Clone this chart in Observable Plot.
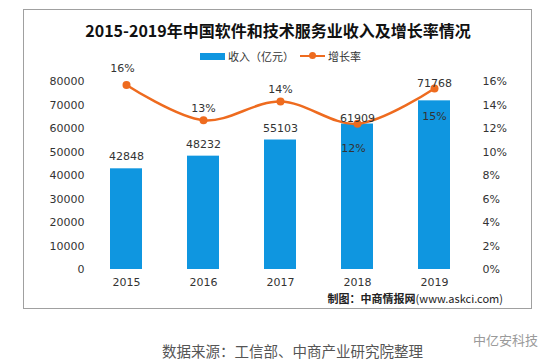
<!DOCTYPE html>
<html>
<head>
<meta charset="utf-8">
<script src="https://cdn.jsdelivr.net/npm/d3@7"></script>
<script src="https://cdn.jsdelivr.net/npm/@observablehq/plot@0.6"></script>
<style>
  html, body { margin: 0; padding: 0; background: #fff; }
  #wrap { position: relative; width: 556px; height: 364px; overflow: hidden; font-family: "Noto Sans CJK SC", sans-serif; }
  #title { position: absolute; left: 23px; width: 510px; top: 19px; line-height: 22px; text-align: center; font-size: 16px; font-weight: bold; color: #111; }
  #legend { position: absolute; left: 200px; top: 48px; height: 16px; display: flex; align-items: center; font-size: 11px; color: #333; }
  #legend .sw { width: 25px; height: 7px; background: #0f96e0; margin-right: 3px; }
  #legend .ln { position: relative; width: 25px; height: 2.5px; background: #ee6b1f; margin: 0 3px 0 6px; }
  #legend .ln::after { content: ""; position: absolute; left: 9px; top: -2.5px; width: 7px; height: 7px; border-radius: 50%; background: #ee6b1f; }
  #chart { position: absolute; left: 0; top: 0; }
  #credit { position: absolute; right: 53px; top: 290px; font-size: 11px; color: #222; line-height: 16px; }
  #credit b { font-weight: bold; }
  #source { position: absolute; left: 162px; top: 341px; font-size: 14.5px; color: #555; line-height: 20px; }
  #wm { position: absolute; left: 473px; top: 331px; font-size: 13px; color: #9a9a9a; line-height: 18px; }
</style>
</head>
<body>
<div id="wrap">
  <div id="chart"></div>
  <div id="title">2015-2019年中国软件和技术服务业收入及增长率情况</div>
  <div id="legend"><span class="sw"></span><span>收入（亿元）</span><span class="ln"></span><span>增长率</span></div>
  <div id="credit"><b>制图：中商情报网</b>(www.askci.com)</div>
  <div id="source">数据来源：工信部、中商产业研究院整理</div>
  <div id="wm">中亿安科技</div>
</div>
<script>
const years = ["2015", "2016", "2017", "2018", "2019"];
const revenue = [42848, 48232, 55103, 61909, 71768];
const growth = [15.7, 12.7, 14.3, 12.4, 15.4];
const growthLabels = ["16%", "13%", "14%", "12%", "15%"];
const leftTicks = [0, 10000, 20000, 30000, 40000, 50000, 60000, 70000, 80000];
const rightTicks = [0, 2, 4, 6, 8, 10, 12, 14, 16];

const ratio = 80000 / 16; // map % to left-axis units
const rows = years.map((y, i) => ({ year: y, revenue: revenue[i], growth: growth[i], gy: growth[i] * ratio, glabel: growthLabels[i], i }));

const blue = "#0f96e0";
const orange = "#ee6b1f";
const numFont = "DejaVu Sans, sans-serif";

const pick = (idx) => rows.filter(d => idx.includes(d.i));

const chart = Plot.plot({
  width: 556,
  height: 364,
  marginLeft: 85,
  marginRight: 82,
  marginTop: 81,
  marginBottom: 95,
  style: { fontFamily: numFont, fontSize: "11px", color: "#333", background: "transparent" },
  x: { type: "band", domain: years, paddingInner: 0.59, paddingOuter: 0.295, axis: null },
  y: { domain: [0, 80000], axis: null },
  marks: [
    Plot.ruleY(leftTicks, { stroke: "#d9d9d9", strokeWidth: 1, x1: 85, x2: 477 }),
    Plot.axisY(leftTicks, { anchor: "left", tickSize: 0, tickPadding: 1, label: null, fill: "#333", fontSize: 11, tickFormat: d => String(d) }),
    Plot.axisY(rightTicks.map(t => t * ratio), { anchor: "right", tickSize: 0, tickPadding: 8, label: null, fill: "#333", fontSize: 11, tickFormat: d => (d / ratio) + "%" }),
    Plot.axisX(years, { anchor: "bottom", tickSize: 0, tickPadding: 9, label: null, fill: "#333", fontSize: 11 }),
    Plot.barY(rows, { x: "year", y: "revenue", fill: blue }),
    Plot.line(rows, { x: "year", y: "gy", stroke: orange, strokeWidth: 2.5, curve: "catmull-rom" }),
    Plot.dot(rows, { x: "year", y: "gy", r: 4, fill: orange }),
    Plot.text(pick([0, 1, 2]), { x: "year", y: "revenue", text: d => String(d.revenue), dy: -12, fill: "#333", fontSize: 11 }),
    Plot.text(pick([3]), { x: "year", y: "revenue", text: d => String(d.revenue), dy: -6, fill: "#333", fontSize: 11 }),
    Plot.text(pick([4]), { x: "year", y: "revenue", text: d => String(d.revenue), dy: -17, fill: "#333", fontSize: 11 }),
    Plot.text(pick([0]), { x: "year", y: "gy", text: "glabel", dy: -17, dx: -4, fill: "#333", fontSize: 11 }),
    Plot.text(pick([1, 2]), { x: "year", y: "gy", text: "glabel", dy: -12, fill: "#333", fontSize: 11 }),
    Plot.text(pick([3]), { x: "year", y: "gy", text: "glabel", dy: 25, dx: -4, fill: "#333", fontSize: 11 }),
    Plot.text(pick([4]), { x: "year", y: "gy", text: "glabel", dy: 28, fill: "#333", fontSize: 11 })
  ]
});
// outer chart-area border (decoration)
d3.select(chart).append("rect")
  .attr("x", 23.5).attr("y", 9.5).attr("width", 508).attr("height", 299)
  .attr("fill", "none").attr("stroke", "#a0a0a0").attr("stroke-width", 1);
document.getElementById("chart").appendChild(chart);
</script>
</body>
</html>
